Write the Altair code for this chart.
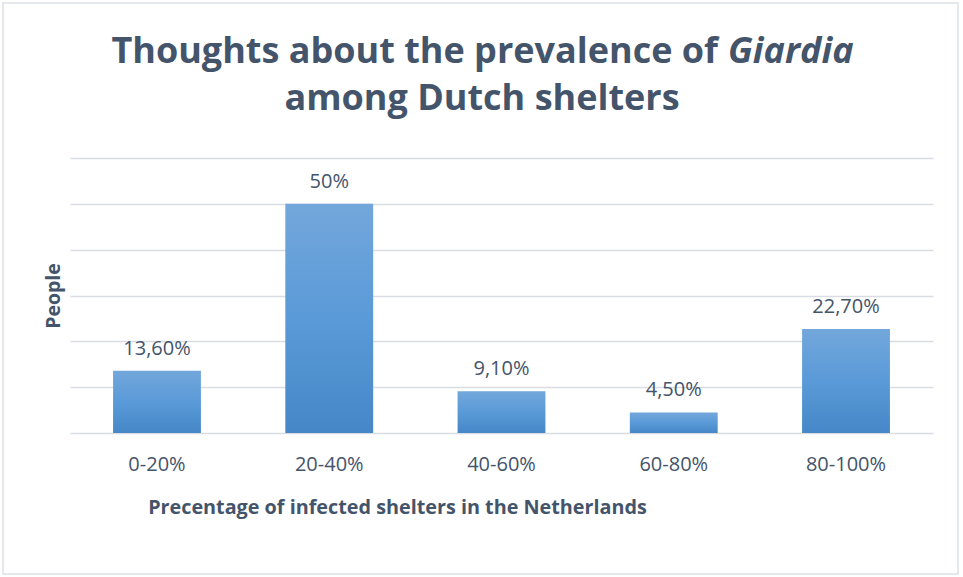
import altair as alt
import pandas as pd

categories = ["0-20%", "20-40%", "40-60%", "60-80%", "80-100%"]
values = [13.6, 50.0, 9.1, 4.5, 22.7]
labels = ["13,60%", "50%", "9,10%", "4,50%", "22,70%"]
y_ticks = [0, 10, 20, 30, 40, 50, 60]

df = pd.DataFrame({"cat": categories, "val": values, "lab": labels})

TXT = "#44546a"
FONT = "Open Sans"
W, H = 863, 275

grad = alt.Gradient(
    gradient="linear",
    stops=[
        alt.GradientStop(color="#73a7db", offset=0),
        alt.GradientStop(color="#5a9ad8", offset=0.5),
        alt.GradientStop(color="#4587c7", offset=1),
    ],
    x1=0, x2=0, y1=0, y2=1,
)

xenc = alt.X(
    "cat:N", sort=categories,
    scale=alt.Scale(paddingInner=0.49, paddingOuter=0.25),
    axis=alt.Axis(
        title="Precentage of infected shelters in the Netherlands",
        labelAngle=0, domain=False, ticks=False, labelPadding=21,
        labelFont=FONT, labelFontSize=20, labelColor=TXT,
        titleFont=FONT, titleFontSize=19.8, titleFontWeight="bold", titleColor=TXT,
        titleX=327, titleY=74, titleAlign="center", titleBaseline="middle",
    ),
)
yenc = alt.Y(
    "val:Q",
    scale=alt.Scale(domain=[0, 60], nice=False),
    axis=alt.Axis(
        values=y_ticks, labels=False, ticks=False, domain=False,
        grid=True, gridColor="#d9dde3", gridWidth=1.3,
        title="People", titleFont=FONT, titleFontSize=19.5, titleFontWeight="bold",
        titleColor=TXT, titleAngle=-90, titleX=-17, titleY=H / 2,
        titleAlign="center", titleBaseline="middle",
    ),
)

base = alt.Chart(df)
bars = base.mark_bar(color=grad).encode(x=xenc, y=yenc)
text = base.mark_text(
    font=FONT, fontSize=20, color=TXT, baseline="alphabetic", dy=-16
).encode(x=alt.X("cat:N", sort=categories), y="val:Q", text="lab:N")

title_df = pd.DataFrame({"t": [0]})
tbase = alt.Chart(title_df)
t1 = tbase.mark_text(
    font=FONT, fontSize=36, fontWeight="bold", color=TXT, align="right", baseline="alphabetic"
).encode(x=alt.value(648), y=alt.value(-95), text=alt.value("Thoughts about the prevalence of"))
t2 = tbase.mark_text(
    font=FONT, fontSize=36, fontWeight="bold", fontStyle="italic", color=TXT, align="left", baseline="alphabetic"
).encode(x=alt.value(658), y=alt.value(-95), text=alt.value("Giardia"))
t3 = tbase.mark_text(
    font=FONT, fontSize=36, fontWeight="bold", color=TXT, align="center", baseline="alphabetic"
).encode(x=alt.value(412), y=alt.value(-48), text=alt.value("among Dutch shelters"))
border = tbase.mark_rect(fill=None, stroke="#dde1e6", strokeWidth=1.5).encode(
    x=alt.value(-67), x2=alt.value(888), y=alt.value(-155), y2=alt.value(416)
)

chart = alt.layer(border, bars, text, t1, t2, t3).properties(
    width=W, height=H,
    background="white",
    autosize=alt.AutoSizeParams(type="none"),
    padding={"left": 70, "top": 158, "right": 30, "bottom": 144},
).configure_view(stroke=None, strokeWidth=0)

chart.save("out.html", embed_options={"renderer": "svg", "actions": False})
